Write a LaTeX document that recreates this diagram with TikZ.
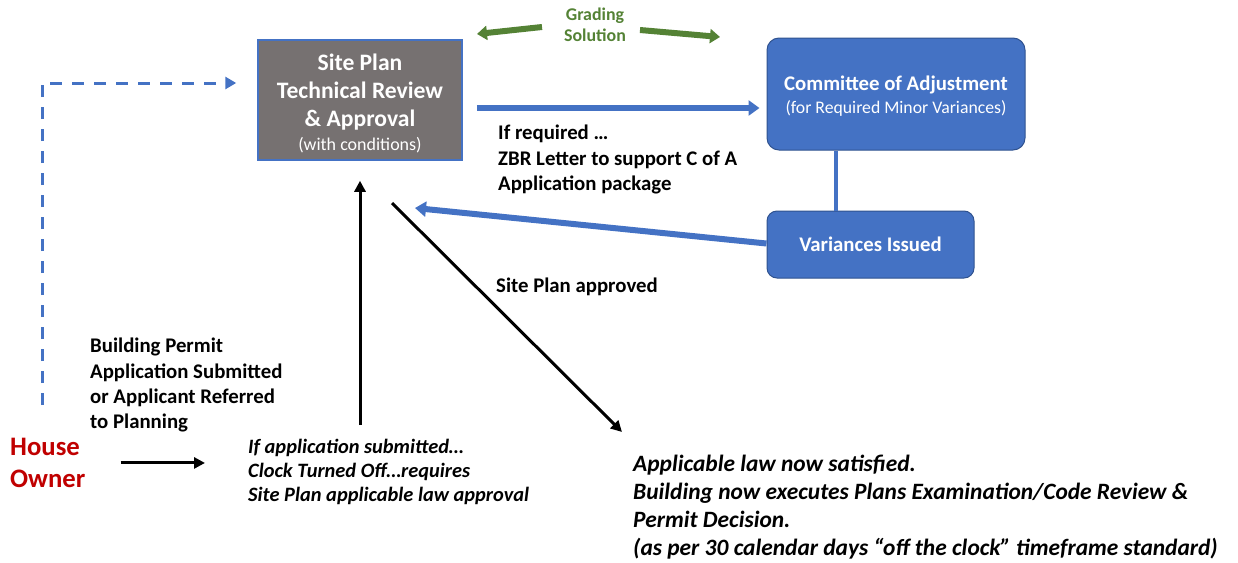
\documentclass[tikz,border=0pt]{standalone}
\usepackage{fontspec}
\setmainfont{Carlito}
\usetikzlibrary{arrows.meta}

\definecolor{boxblue}{HTML}{4472C4}
\definecolor{boxedge}{HTML}{2F528F}
\definecolor{reviewgray}{HTML}{767171}
\definecolor{gradegreen}{HTML}{548235}
\definecolor{ownerred}{HTML}{C00000}

\begin{document}
\begin{tikzpicture}[x=1pt, y=-1pt, >={Triangle[length=11pt,width=11pt]}]
  \tikzstyle{review}=[rectangle, draw=boxblue, line width=1.5pt, fill=reviewgray, text=white, align=center, minimum width=204pt, minimum height=120pt, inner sep=0pt]
  \tikzstyle{cofa}=[rectangle, draw=boxedge, line width=1pt, fill=boxblue, text=white, rounded corners=12pt, align=center, inner sep=0pt]
  \tikzstyle{note}=[align=left, anchor=north west, inner sep=0pt, font=\bfseries\fontsize{20.8}{25.3}\selectfont]
  \tikzstyle{blueflow}=[draw=boxblue, line width=6pt, -{Triangle[length=11pt,width=15pt]}]
  \tikzstyle{greenflow}=[draw=gradegreen, line width=6pt, -{Triangle[length=10pt,width=14pt]}]
  \tikzstyle{blackflow}=[draw=black, line width=3pt, ->]
  \tikzstyle{dashflow}=[draw=boxblue, line width=3pt, dash pattern=on 12pt off 10pt, -{Triangle[length=11pt,width=12pt]}]

  \useasboundingbox (0,0) rectangle (1238,562);

  % boxes
  \node[review, font=\bfseries\fontsize{23.6}{28}\selectfont] (review) at (360,100)
    {\rule{0pt}{24pt}Site Plan\\Technical Review\\\& Approval\\[-4pt]{\mdseries\fontsize{18}{20}\selectfont(with conditions)}};
  \node[cofa, minimum width=258pt, minimum height=112pt, font=\bfseries\fontsize{20.8}{23}\selectfont] (cofa) at (896,94)
    {\rule{0pt}{19pt}Committee of Adjustment\\{\mdseries\fontsize{17.7}{20}\selectfont(for Required Minor Variances)}};
  \node[cofa, rounded corners=10pt, minimum width=207pt, minimum height=67pt, font=\bfseries\fontsize{20.8}{24}\selectfont] (varIss) at (870.5,244.5)
    {Variances Issued};

  % text
  \node[note, align=center, anchor=north, text=gradegreen, font=\bfseries\fontsize{17.9}{21}\selectfont] (grading) at (595,8) {Grading\\Solution};
  \node[note, font=\bfseries\fontsize{20.8}{25.5}\selectfont] (zbr) at (498,125) {If required \dots\\ZBR Letter to support C of A\\Application package};
  \node[note] (approved) at (496,278) {Site Plan approved};
  \node[note] (permit) at (90,338) {Building Permit\\Application Submitted\\or Applicant Referred\\to Planning};
  \node[note, text=ownerred, font=\bfseries\fontsize{26.7}{32}\selectfont] (owner) at (10,438) {House\\Owner};
  \node[note, font=\bfseries\itshape\fontsize{20.4}{24}\selectfont] (ifapp) at (248,439) {If application submitted\dots\\Clock Turned Off\dots requires\\Site Plan applicable law approval};
  \node[note, font=\bfseries\itshape\fontsize{23.4}{28}\selectfont] (lawnote) at (633,455) {Applicable law now satisfied.\\Building now executes Plans Examination/Code Review \&\\Permit Decision.\\(as per 30 calendar days “off the clock” timeframe standard)};

  \coordinate (gradeLeft) at (477,34);
  \coordinate (gradeRight) at (720,37);
  \coordinate (backTip) at (415,208);
  \coordinate (approvedFrom) at (392,203);
  \coordinate (approvedTo) at (622,432);

  % connectors
  \draw[greenflow] (542,27) -- (gradeLeft);
  \draw[greenflow] (640,30) -- (gradeRight);
  \draw[blueflow, shorten <=14pt, shorten >=7pt] ([yshift=-8pt]review.east) -- ([yshift=-14pt]cofa.west);
  \draw[boxblue, line width=4pt] ([xshift=-60pt]cofa.south) -- ([xshift=-34.5pt]varIss.north);
  \draw[blueflow] ([yshift=1pt]varIss.west) -- (backTip);
  \draw[blackflow, shorten <=14pt, shorten >=20pt] (review.south |- ifapp.north) -- (review.south);
  \draw[blackflow] (approvedFrom) -- (approvedTo);
  \draw[blackflow, shorten <=35pt, shorten >=43pt] (owner.east) -- (ifapp.west |- owner.east);
  \draw[dashflow, shorten >=21pt] ([xshift=32pt,yshift=33pt]owner.north west) |- ([yshift=17pt]review.west);
\end{tikzpicture}
\end{document}
